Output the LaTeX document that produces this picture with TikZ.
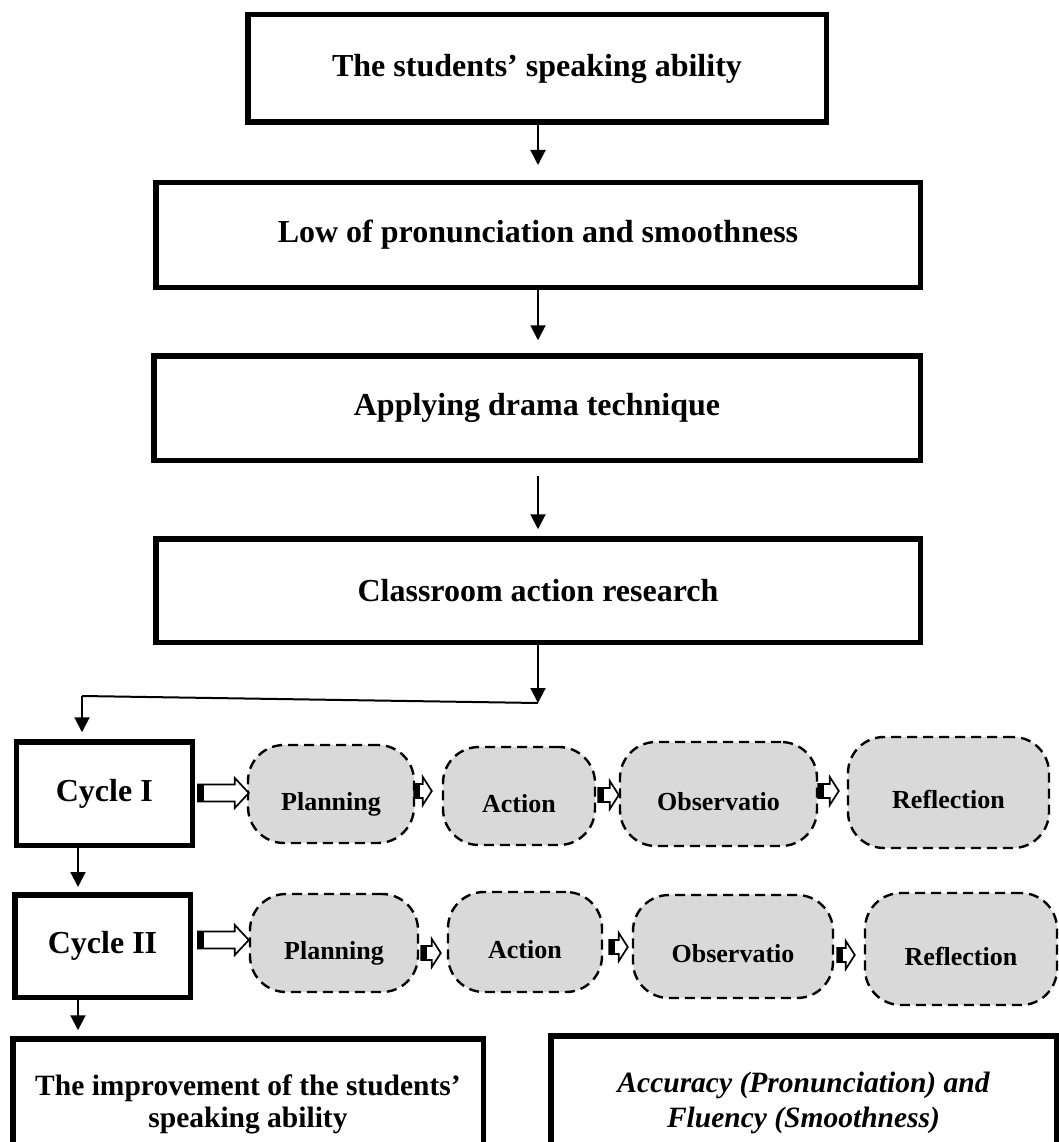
\documentclass[tikz,border=0pt]{standalone}
\usepackage{fontspec}
\setmainfont{Liberation Serif}
\usetikzlibrary{arrows.meta,calc}
\definecolor{boxgray}{HTML}{D9D9D9}
\newcommand\blockarr[5]{%
  \draw[line width=1.7pt, fill=white, line join=miter] let \p1=#1, \p2=#2 in
    (\x1,\y1-#3) -- (\x2-#5,\y1-#3) -- (\x2-#5,\y1-#4) -- (\x2,\y1) --
    (\x2-#5,\y1+#4) -- (\x2-#5,\y1+#3) -- (\x1,\y1+#3) -- cycle;
  \fill let \p1=#1 in (\x1,\y1-#3-0.8pt) rectangle (\x1+5.5pt,\y1+#3+0.8pt);
}
\begin{document}
\begin{tikzpicture}[x=1pt,y=-1pt,
  mbox/.style={draw, line width=5.5pt, inner sep=0pt, align=center,
    font=\fontsize{32}{36}\selectfont\bfseries},
  rbox/.style={draw, dash pattern=on 10pt off 6pt, line width=2.4pt, fill=boxgray,
    rounded corners=36pt, inner sep=0pt, text height=38pt, text depth=6pt,
    font=\fontsize{26}{30}\selectfont\bfseries},
  arr/.style={line width=2pt, -{Triangle[length=15pt,width=15pt]}},
  plain/.style={line width=2pt},
]
\useasboundingbox (0,0) rectangle (1059,1142);
\clip (0,0) rectangle (1059,1142);

% main boxes
\node[mbox, minimum width=578.5pt, minimum height=107.5pt] (b1) at (537,68.5) {The students’ speaking ability};
\node[mbox, minimum width=764.5pt, minimum height=104.5pt] (b2) at (538,235) {Low of pronunciation and smoothness};
\node[mbox, minimum width=766.5pt, minimum height=104.5pt] (b3) at (537,408) {Applying drama technique};
\node[mbox, minimum width=764.5pt, minimum height=103.5pt] (b4) at (538,590.5) {Classroom action research};

% cycles
\node[mbox, minimum width=176pt, minimum height=103.5pt] (c1) at (104.3,793.5) {Cycle I};
\node[mbox, minimum width=175.5pt, minimum height=102.5pt] (c2) at (102.5,946) {Cycle II};

% rounded steps row 1
\node[rbox, minimum width=166pt, minimum height=98pt] (p1) at (331,794) {Planning};
\node[rbox, minimum width=152pt, minimum height=98pt] (a1) at (519,796) {Action};
\node[rbox, minimum width=197pt, minimum height=104pt] (o1) at (718.5,794) {Observatio};
\node[rbox, minimum width=201pt, minimum height=111pt] (r1) at (948.5,792.5) {Reflection};
% row 2
\node[rbox, minimum width=168pt, minimum height=98pt] (p2) at (334,943) {Planning};
\node[rbox, minimum width=154pt, minimum height=100pt] (a2) at (525,942) {Action};
\node[rbox, minimum width=200pt, minimum height=103pt] (o2) at (733,946.5) {Observatio};
\node[rbox, minimum width=192pt, minimum height=112pt] (r2) at (961,949) {Reflection};

% bottom boxes
\node[mbox, minimum width=470.5pt, minimum height=130.5pt,
  font=\fontsize{29.5}{32}\selectfont\bfseries] (out1) at (248,1104)
  {The improvement of the students’\\speaking ability};
\node[mbox, minimum width=505.5pt, minimum height=133.5pt,
  font=\fontsize{29.5}{35}\selectfont\bfseries\itshape] (out2) at (803.5,1102.5)
  {Accuracy (Pronunciation) and\\Fluency (Smoothness)};

% junctions
\coordinate (j1) at (538,703);
\coordinate (j2) at (82,696);

% vertical arrows
\draw[arr] (b1.south -| 538,0) -- ($(b2.north -| 538,0)+(0,-15)$);
\draw[arr] (b2.south -| 538,0) -- ($(b3.north -| 538,0)+(0,-12.75)$);
\draw[arr] ($(b3.south -| 538,0)+(0,12.75)$) -- ($(b4.north -| 538,0)+(0,-6.75)$);
\draw[arr] (b4.south -| 538,0) -- (j1);
\draw[plain] (j1) -- (j2);
\draw[arr] (j2) -- ($(c1.north -| j2)+(0,-6.75)$);
\draw[arr] (c1.south -| 78,0) -- ($(c2.north -| 78,0)+(0,-5)$);
\draw[arr] (c2.south -| 78,0) -- ($(out1.north -| 78,0)+(0,-5.75)$);

% block arrows row 1
\blockarr{($(c1.east|-0,793)+(3,0)$)}{($(p1.west|-0,793)+(2,0)$)}{8.5pt}{15pt}{14pt}
\blockarr{($(p1.east|-0,791)+(-1,0)$)}{($(a1.west|-0,791)+(-10,0)$)}{7pt}{14pt}{9pt}
\blockarr{($(a1.east|-0,795)+(2,0)$)}{($(o1.west|-0,795)+(0,0)$)}{7pt}{14pt}{9pt}
\blockarr{($(o1.east|-0,791)+(0,0)$)}{($(r1.west|-0,791)+(-8,0)$)}{7pt}{14pt}{9pt}
% block arrows row 2
\blockarr{($(c2.east|-0,940)+(5,0)$)}{($(p2.west|-0,940)+(0,0)$)}{8.5pt}{15pt}{14pt}
\blockarr{($(p2.east|-0,953)+(2,0)$)}{($(a2.west|-0,953)+(-6,0)$)}{7pt}{14pt}{9pt}
\blockarr{($(a2.east|-0,947)+(6,0)$)}{($(o2.west|-0,947)+(-4,0)$)}{7pt}{14pt}{9pt}
\blockarr{($(o2.east|-0,955)+(3,0)$)}{($(r2.west|-0,955)+(-9,0)$)}{7pt}{14pt}{9pt}
\end{tikzpicture}
\end{document}
